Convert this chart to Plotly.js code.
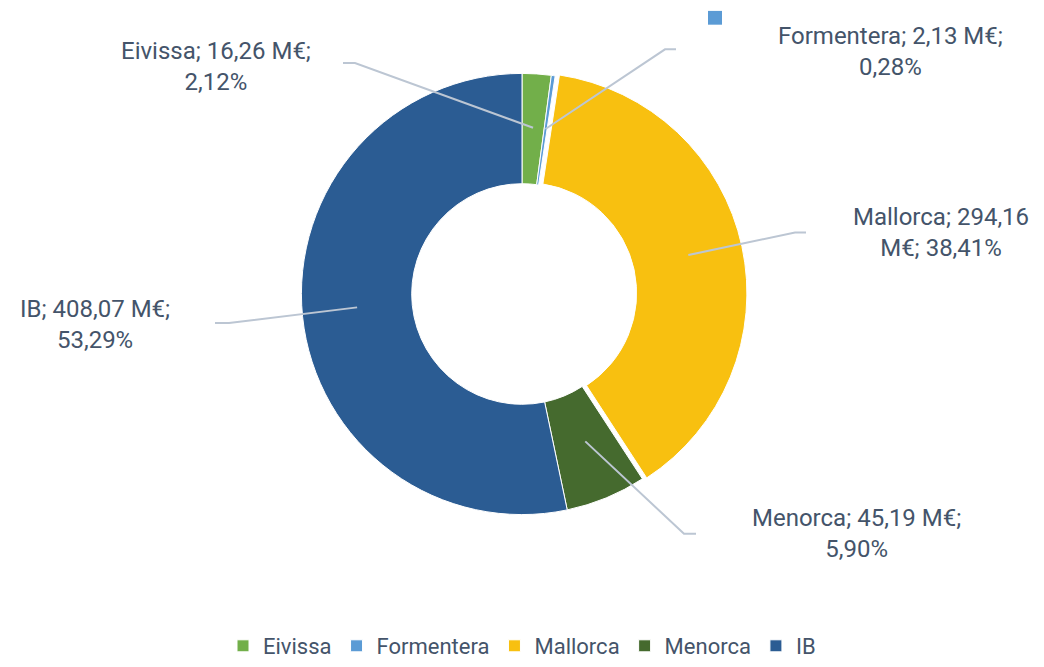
<!DOCTYPE html>
<html>
<head>
<meta charset="utf-8">
<script src="https://cdn.plot.ly/plotly-3.0.1.min.js"></script>
<style>
  body { margin: 0; background: #fff; }
  #chart { width: 1044px; height: 667px; }
</style>
</head>
<body>
<div id="chart"></div>
<script>
// data (M€)
var islands = ['Eivissa', 'Formentera', 'Mallorca', 'Menorca', 'IB'];
var amounts = [16.26, 2.13, 294.16, 45.19, 408.07];
var colors = ['#72AF4A', '#5B9BD5', '#F8C010', '#456A2E', '#2B5C93'];

// where each outside label sits (pixels): text centre + elbow of the leader line
var labelPos = [
    { tx: 216, ty: 66,  ex: 355, ey: 63,  hx: 343, brk: 'after' },
    { tx: 890, ty: 51,  ex: 665, ey: 49,  hx: 676, brk: 'after' },
    { tx: 941, ty: 235, ex: 795, ey: 235, hx: 806, brk: 'mid' },
    { tx: 856, ty: 541, ex: 684, ey: 541, hx: 696, brk: 'after' },
    { tx: 95,  ty: 328, ex: 229, ey: 327, hx: 215, brk: 'after' }
];

var W = 1044, H = 667;
var mL = 0, mR = 0, mT = 69, mB = 141;
var pullMallorca = 0.02;
var textColor = '#44546A';
var fontFam = 'Roboto, "Noto Sans", sans-serif';

function fmt(v) { return v.toFixed(2).replace('.', ','); }
function px2x(p) { return (p - mL) / (W - mL - mR); }
function py2y(p) { return (H - mB - p) / (H - mT - mB); }

var total = amounts.reduce(function (a, b) { return a + b; }, 0);

// pie geometry (approx. what plotly draws)
var cx = W / 2;
var cy = 294;
var R = 221;

var annotations = [];
var shapes = [];
var cum = 0;
islands.forEach(function (name, i) {
    var frac = amounts[i] / total;
    var mid = (cum + frac / 2) * 2 * Math.PI;
    cum += frac;
    var pct = fmt(frac * 100) + '%';
    var txt = labelPos[i].brk === 'mid'
        ? name + '; ' + fmt(amounts[i]) + '<br>M€; ' + pct
        : name + '; ' + fmt(amounts[i]) + ' M€;<br>' + pct;
    var rr = 0.75 * R + (name === 'Mallorca' ? pullMallorca * R : 0);
    var ax = cx + rr * Math.sin(mid);
    var ay = cy - rr * Math.cos(mid);
    var L = labelPos[i];
    shapes.push({
        type: 'path', xref: 'paper', yref: 'paper',
        path: 'M' + px2x(ax) + ',' + py2y(ay) + ' L' + px2x(L.ex) + ',' + py2y(L.ey) +
              ' L' + px2x(L.hx) + ',' + py2y(L.ey),
        line: { color: '#BCC6D3', width: 2 }
    });
    annotations.push({
        xref: 'paper', yref: 'paper', x: px2x(L.tx), y: py2y(L.ty),
        xanchor: 'center', yanchor: 'middle', showarrow: false, align: 'center',
        text: txt, font: { family: fontFam, size: 24, color: textColor }
    });
});

// stray legend key next to the Formentera label
shapes.push({
    type: 'rect', xref: 'paper', yref: 'paper',
    x0: px2x(708), x1: px2x(722), y0: py2y(24), y1: py2y(10),
    fillcolor: colors[1], line: { width: 0 }
});

var data = [{
    type: 'pie',
    labels: islands,
    values: amounts,
    sort: false,
    direction: 'clockwise',
    rotation: 0,
    hole: 0.5,
    pull: islands.map(function (n) { return n === 'Mallorca' ? pullMallorca : 0; }),
    textinfo: 'none',
    marker: { colors: colors, line: { color: '#ffffff', width: 1 } }
}];

var layout = {
    width: W, height: H,
    margin: { l: mL, r: mR, t: mT, b: mB },
    paper_bgcolor: '#ffffff',
    font: { family: fontFam, color: textColor },
    showlegend: true,
    legend: {
        orientation: 'h', x: 0.5, xanchor: 'center',
        y: py2y(655), yanchor: 'middle',
        font: { family: fontFam, size: 22, color: textColor },
        itemwidth: 30, traceorder: 'normal'
    },
    annotations: annotations,
    shapes: shapes
};

Plotly.newPlot('chart', data, layout, { displayModeBar: false });
</script>
</body>
</html>
